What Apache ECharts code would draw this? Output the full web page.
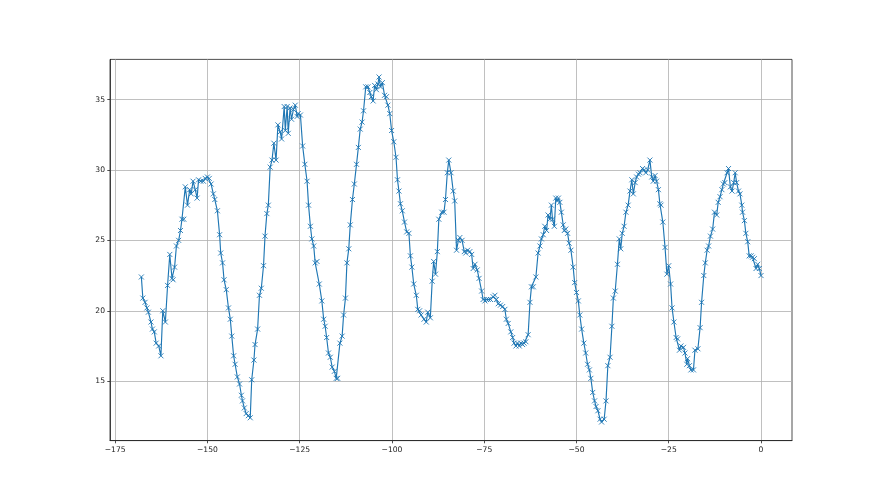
<!DOCTYPE html>
<html>
<head>
<meta charset="utf-8">
<script src="https://cdn.jsdelivr.net/npm/echarts@6/dist/echarts.min.js"></script>
<style>
html,body{margin:0;padding:0;background:#fff;}
#c{width:880px;height:495px;}
</style>
</head>
<body>
<div id="c"></div>
<script>
const hours = [
-167.9,-167.5,-166.9,-166.4,-166.0,-165.3,-164.9,-164.4,-163.9,-163.2,-162.6,-162.1,-161.4,-160.8,-160.2,-159.6,-159.3,-158.9,-158.4,-157.8,-157.3,-156.9,-156.4,-156.0,-155.4,-154.8,-154.4,-153.9,-153.3,-152.8,-152.4,-151.8,-151.1,-150.6,-150.0,-149.5,-149.0,-148.4,-148.0,
-147.3,-146.7,-146.4,-145.9,-145.5,-144.9,-144.3,-143.8,-143.4,-142.9,-142.5,-141.9,-141.3,-140.8,-140.5,-140.0,-139.5,-138.9,-138.4,-138.0,-137.4,-137.1,-136.4,-135.9,-135.4,-134.8,-134.4,-133.9,-133.5,-133.0,-132.5,-132.0,-131.4,-130.9,-130.3,-129.9,
-129.2,-128.9,-128.4,-128.1,-127.6,-127.2,-126.7,-126.2,-125.7,-125.4,-124.8,-124.2,-123.6,-123.0,-122.6,-122.1,-121.7,-121.2,-120.8,-120.3,-119.7,-119.0,-118.5,-118.1,-117.7,-117.2,-116.7,-116.2,-115.6,-115.1,-114.7,-114.1,-113.5,-113.1,-112.6,-112.2,-111.7,-111.3,-110.7,-110.2,-109.6,-109.1,-108.6,-108.1,-107.7,
-107.1,-106.5,-106.0,-105.6,-105.1,-104.7,-104.2,-103.8,-103.5,-103.1,-102.6,-102.0,-101.5,-101.1,-100.6,-100.1,-99.5,-98.9,-98.5,-98.1,-97.7,-97.2,-96.6,-96.0,-95.4,-95.0,-94.6,-94.1,-93.4,-93.0,-92.5,-92.1,-91.3,-90.7,-90.3,-89.6,-89.1,-88.7,-88.2,-87.7,-87.3,
-86.5,-85.9,-85.5,-85.0,-84.6,-84.0,-83.4,-83.0,-82.5,-82.0,-81.6,-81.0,-80.4,-80.0,-79.5,-78.9,-78.4,-78.0,-77.5,-76.9,-76.4,-75.7,-75.3,-74.8,-74.4,-73.9,-73.3,-72.6,-72.1,-71.7,-71.2,-70.6,-70.0,-69.4,-69.0,-68.5,-67.8,-67.3,
-66.9,-66.4,-66.0,-65.5,-65.1,-64.6,-64.2,-63.7,-63.1,-62.6,-62.2,-61.7,-61.0,-60.4,-59.9,-59.5,-59.0,-58.6,-58.1,-57.7,-57.2,-56.8,-56.5,-56.0,-55.6,-55.2,-54.9,-54.5,-54.1,-53.6,-53.3,-52.9,-52.4,-52.0,-51.5,-50.9,-50.5,-50.0,-49.5,-49.1,-48.6,-48.0,-47.5,
-47.0,-46.5,-46.1,-45.6,-45.1,-44.7,-44.2,-43.6,-43.2,-42.5,-42.0,-41.5,-40.9,-40.4,-40.0,-39.5,-38.9,-38.4,-38.0,-37.6,-37.1,-36.6,-36.0,-35.5,-35.0,-34.6,-34.1,-33.7,-33.2,-32.8,-32.1,-31.6,-31.2,-30.7,-30.1,-29.6,-29.2,-28.7,-28.3,-27.8,-27.4,
-27.1,-26.6,-26.0,-25.5,-25.0,-24.5,-24.1,-23.6,-23.0,-22.6,-22.1,-21.7,-21.0,-20.6,-20.1,-19.9,-19.4,-19.0,-18.3,-17.9,-17.1,-16.5,-16.1,-15.5,-15.1,-14.6,-14.2,-13.7,-13.1,-12.6,-12.0,-11.6,-11.1,-10.6,-10.2,-9.8,-9.2,-8.8,
-8.3,-7.85,-7.4,-7.0,-6.6,-6.1,-5.7,-5.2,-5.0,-4.5,-4.1,-3.6,-3.2,-2.7,-2.3,-1.8,-1.35,-0.9,-0.45,0
];
const temps = [
22.4,20.9,20.6,20.2,19.9,19.2,18.7,18.5,17.7,17.5,16.8,20.0,19.2,21.8,24.0,22.3,22.2,23.1,24.6,25.0,25.7,26.5,26.5,28.8,27.5,28.6,28.3,29.2,28.6,28.0,29.3,29.2,29.2,29.4,29.5,29.4,29.0,28.3,27.9,
27.1,25.4,24.1,23.4,22.2,21.5,20.2,19.4,18.2,16.8,16.2,15.3,14.8,14.0,13.6,13.1,12.7,12.55,12.4,15.1,16.5,17.6,18.7,21.1,21.6,23.2,25.3,26.9,27.5,30.2,30.7,31.9,30.7,33.2,32.7,32.2,
34.5,32.8,34.5,32.6,34.4,33.6,34.3,34.6,33.8,34.0,33.9,31.7,30.4,29.2,27.5,26.0,25.1,24.6,23.4,23.5,21.9,20.7,19.4,18.9,18.1,17.0,16.7,16.0,15.7,15.2,15.2,17.7,18.2,19.7,20.9,23.4,24.4,26.1,27.9,29.0,30.4,31.6,32.9,33.4,34.2,
35.9,35.9,35.5,35.2,34.9,36.0,35.7,36.1,36.6,35.9,36.2,35.3,35.2,34.6,34.0,32.8,32.0,30.9,29.3,28.5,27.6,27.1,26.3,25.6,25.5,23.9,23.1,21.9,21.1,20.1,20.0,19.7,19.4,19.2,19.9,19.5,22.1,23.5,22.6,24.2,26.5,
27.0,27.0,27.9,29.8,30.7,29.8,28.5,27.8,24.3,25.0,25.2,25.0,24.2,24.1,24.3,24.2,24.0,23.0,23.3,22.9,22.3,21.4,20.8,20.7,20.8,20.8,20.8,21.0,21.1,20.8,20.5,20.4,20.3,20.1,19.4,19.1,18.5,18.1,
17.7,17.5,17.7,17.5,17.7,17.6,17.7,17.8,18.3,20.6,21.7,21.7,22.4,24.1,24.6,25.1,25.4,26.0,25.7,26.8,26.5,27.5,26.5,26.0,28.0,27.8,28.0,27.7,27.0,26.1,25.7,25.8,25.5,24.8,24.3,23.1,22.0,21.3,20.7,19.7,18.7,17.7,17.0,
16.2,15.8,15.2,14.2,13.6,13.2,12.9,12.3,12.1,12.3,13.6,16.1,16.7,18.9,20.9,21.4,23.3,25.1,24.4,25.5,26.0,27.0,27.5,28.5,29.3,28.3,29.1,29.5,29.7,29.8,30.1,30.0,29.8,30.0,30.7,29.5,29.2,29.6,29.2,28.6,27.6,
27.5,26.3,24.5,22.6,23.2,21.9,20.2,19.2,18.1,18.0,17.2,17.5,17.4,17.0,16.2,16.6,16.1,15.8,15.8,17.2,17.3,18.8,20.6,22.5,23.4,24.3,24.6,25.3,25.8,27.0,26.8,27.7,28.1,28.6,29.0,29.1,29.8,30.1,
28.8,28.5,29.1,29.8,29.1,28.5,28.3,27.5,27.0,26.4,25.5,24.9,23.9,23.9,23.8,23.7,23.0,23.3,23.0,22.5
];
const xTicks = [-175, -150, -125, -100, -75, -50, -25, 0];
const yTicks = [15, 20, 25, 30, 35];

const fmt = v => (v < 0 ? '\u2212' + Math.abs(v) : String(v));
const chart = echarts.init(document.getElementById('c'), null, {renderer: 'canvas'});
const gridLine = {show: true, lineStyle: {color: '#b0b0b0', width: 0.8}};
chart.setOption({
  animation: false,
  backgroundColor: '#fff',
  grid: {left: 110, right: 88, top: 59.4, bottom: 54.4, show: true, borderColor: '#222', borderWidth: 0.8, backgroundColor: 'transparent'},
  xAxis: {
    type: 'value', min: -176.4, max: 8.4,
    axisLine: {show: true, onZero: false, lineStyle: {color: '#222', width: 0.8}},
    axisTick: {show: true, length: 2.7, customValues: xTicks, lineStyle: {color: '#222', width: 0.8}},
    axisLabel: {customValues: xTicks, formatter: fmt, color: '#222', fontFamily: 'DejaVu Sans', fontSize: 7.6, margin: 5},
    splitLine: gridLine
  },
  yAxis: {
    type: 'value', min: 10.78, max: 37.85,
    axisLine: {show: true, onZero: false, lineStyle: {color: '#222', width: 0.8}},
    axisTick: {show: true, length: 2.7, customValues: yTicks, lineStyle: {color: '#222', width: 0.8}},
    axisLabel: {customValues: yTicks, formatter: fmt, color: '#222', fontFamily: 'DejaVu Sans', fontSize: 7.6, margin: 5},
    splitLine: gridLine
  },
  series: [{
    type: 'line',
    data: hours.map((h, i) => [h, temps[i]]),
    showAllSymbol: true,
    symbol: 'path://M0,0L10,10M10,0L0,10',
    symbolSize: 5,
    itemStyle: {color: 'rgba(0,0,0,0)', borderColor: '#1f77b4', borderWidth: 0.9},
    lineStyle: {color: '#1f77b4', width: 1.15},
    emphasis: {disabled: true}
  }]
});
</script>
</body>
</html>
